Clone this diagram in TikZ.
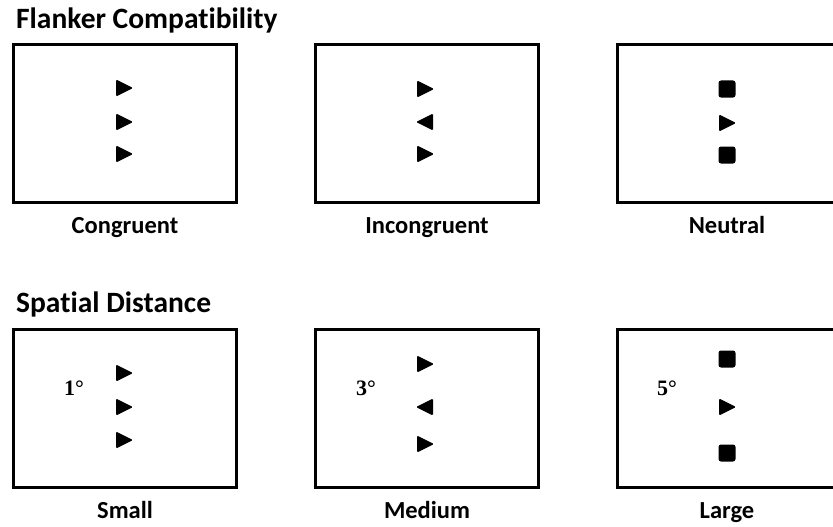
\documentclass[tikz,border=0pt]{standalone}
\usepackage{fontspec}
\setmainfont{Carlito}[Ligatures=NoCommon]
\newfontfamily\degfont{Liberation Serif}
\usetikzlibrary{positioning,calc}
\tikzset{
  screen/.style={draw, line width=2.8pt, minimum width=223pt, minimum height=158pt,
    inner sep=0pt, outer sep=0pt},
  caption/.style={font=\fontsize{24.5}{28}\selectfont\bfseries, inner sep=0pt, anchor=base},
  heading/.style={font=\fontsize{29.5}{32}\selectfont\bfseries, inner sep=0pt, anchor=base west},
  degree/.style={font=\degfont\fontsize{22}{24}\selectfont\bfseries, inner sep=0pt},
}
% flanker markers, size in px
\newcommand{\arrR}[1]{%
  \fill[shift={#1}, rounded corners=1.2pt] (-8,-8.5) -- (9,0) -- (-8,8.5) -- cycle;
}
\newcommand{\arrL}[1]{%
  \fill[shift={#1}, rounded corners=1.2pt] (8,-8.5) -- (-9,0) -- (8,8.5) -- cycle;
}
\newcommand{\sqmark}[1]{%
  \fill[shift={#1}, rounded corners=2.5pt] (-8.5,-8.5) rectangle (8.5,8.5);
}

\begin{document}
\begin{tikzpicture}[x=1pt, y=-1pt]
    \useasboundingbox (0,0) rectangle (833,527);
    \clip (0,0) rectangle (833,527);
    % --- top row: flanker compatibility ---
    \node[heading] (flkTitle) at (16,29) {Flanker Compatibility};
    \begin{scope}[shift={(12,43)}]
      \node[screen] (cong) at (113,80.5) {};
      \arrR{(112,45)} \arrR{(112,79)} \arrR{(112,111)}
      \node[caption] (congLbl) at (113,190.5) {Congruent};
    \end{scope}
    \begin{scope}[shift={(313,43)}]
      \node[screen] (incong) at (114,80.5) {};
      \arrR{(112,46)} \arrL{(112,79)} \arrR{(112,111)}
      \node[caption] (incongLbl) at (114,190.5) {Incongruent};
    \end{scope}
    \begin{scope}[shift={(616,43)}]
      \node[screen] (neut) at (113,80.5) {};
      \sqmark{(111,46)} \arrR{(111,80)} \sqmark{(111,112)}
      \node[caption] (neutLbl) at (111,190.5) {Neutral};
    \end{scope}
    % --- bottom row: spatial distance ---
    \node[heading] (spTitle) at (16,312) {Spatial Distance};
    \begin{scope}[shift={(12,328)}]
      \node[screen] (small) at (113,80.5) {};
      \arrR{(112,45)} \arrR{(112,79)} \arrR{(112,112)}
      \node[degree] (dSmall) at (62,60) {1°};
      \node[caption] (smallLbl) at (113,190.5) {Small};
    \end{scope}
    \begin{scope}[shift={(313,328)}]
      \node[screen] (medium) at (114,80.5) {};
      \arrR{(112,36)} \arrL{(112,79)} \arrR{(112,116)}
      \node[degree] (dMedium) at (53,60) {3°};
      \node[caption] (mediumLbl) at (114,190.5) {Medium};
    \end{scope}
    \begin{scope}[shift={(616,328)}]
      \node[screen] (large) at (113,80.5) {};
      \sqmark{(111,31)} \arrR{(111,79)} \sqmark{(111,125)}
      \node[degree] (dLarge) at (51,60) {5°};
      \node[caption] (largeLbl) at (111,190.5) {Large};
    \end{scope}
  \end{tikzpicture}
\end{document}
